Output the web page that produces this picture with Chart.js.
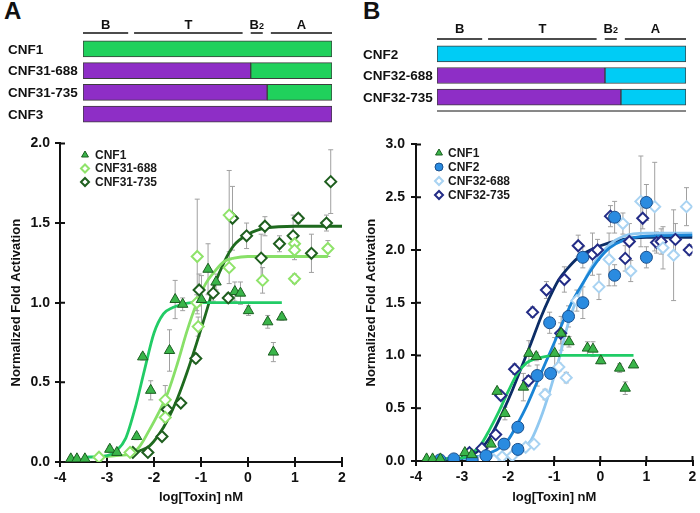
<!doctype html>
<html>
<head>
<title>CNF chimera activation</title>
<script src="https://cdn.jsdelivr.net/npm/chart.js@4.4.1/dist/chart.umd.min.js"></script>
<style>
body { margin: 0; background: #fff; }
#wrap { position: relative; width: 700px; height: 513px; overflow: hidden; }
#wrap canvas { position: absolute; }
.panel { position: absolute; font: bold 24px "Liberation Sans", Arial, sans-serif; line-height: 24px; color: #111; }
</style>
</head>
<body>
<div id="wrap">
	<div class="panel" style="left:4px;top:-1px">A</div>
	<div class="panel" style="left:363px;top:-1px">B</div>
	<canvas id="diagA" width="345" height="128" style="left:0;top:0"></canvas>
	<canvas id="diagB" width="350" height="128" style="left:350px;top:0"></canvas>
	<canvas id="plotA" width="350" height="383" style="left:0;top:130px"></canvas>
	<canvas id="plotB" width="350" height="383" style="left:350px;top:130px"></canvas>
</div>

<script>
// ---- domain diagrams (residue numbers) ----
var fullLength = 1014;
var domainNames = ['B', 'T', 'B', 'A'];
var domainSub = ['', '', '2', ''];
var domainStart = [0, 208, 683, 765];
var domainEnd = [184, 650, 732, 1014];

var rowsA = ['CNF1', 'CNF31-688', 'CNF31-735', 'CNF3'];
var cnf3PartA = [0, 683, 750, 1014];
var rowsB = ['CNF2', 'CNF32-688', 'CNF32-735'];
var cnf3PartB = [0, 684, 749];

// ---- panel A data (log[Toxin] nM vs normalized fold activation) ----
var cnf1X = [-3.77, -3.64, -3.47, -2.94, -2.79, -2.37, -2.24, -2.07, -1.67, -1.55, -1.39, -0.99, -0.85, -0.68, -0.28, -0.16, 0.01, 0.42, 0.54, 0.72];
var cnf1Y = [0.02, 0.02, 0.02, 0.08, 0.06, 0.16, 0.66, 0.45, 0.70, 1.02, 0.99, 1.02, 1.21, 1.13, 1.07, 1.06, 0.95, 0.88, 0.69, 0.91];
var cnf1Err = [0, 0, 0, 0.02, 0.01, 0.02, 0.02, 0.06, 0.13, 0.12, 0.04, 0.15, 0.16, 0.05, 0.06, 0.07, 0.03, 0.04, 0.06, 0.02];

var cnf31_688X = [-3.17, -2.51, -1.76, -1.76, -1.08, -1.06, -1.09, -0.40, -0.40, 0.31, 0.99, 0.99, 0.99, 1.70];
var cnf31_688Y = [0.03, 0.06, 0.39, 0.28, 1.29, 0.85, 1.00, 1.55, 1.22, 1.14, 1.37, 1.33, 1.15, 1.34];
var cnf31_688Err = [0, 0.02, 0.09, 0.03, 0.36, 0.06, 0.05, 0.28, 0.10, 0.08, 0.05, 0.06, 0.03, 0.05];

var cnf31_735X = [-2.45, -2.13, -1.83, -1.72, -1.43, -1.11, -1.04, -0.74, -0.42, -0.33, -0.03, 0.28, 0.36, 0.67, 0.96, 1.07, 1.35, 1.67, 1.76];
var cnf31_735Y = [0.06, 0.06, 0.16, 0.33, 0.37, 0.65, 1.08, 1.06, 1.03, 1.53, 1.42, 1.28, 1.48, 1.37, 1.42, 1.53, 1.31, 1.50, 1.76];
var cnf31_735Err = [0.01, 0.01, 0.02, 0.02, 0.02, 0.03, 0.10, 0.05, 0.03, 0.20, 0.08, 0.15, 0.06, 0.05, 0.13, 0.03, 0.12, 0.05, 0.20];

// fitted curves
var fitA1X = [-3.47, -3.0, -2.8, -2.6, -2.4, -2.2, -2.0, -1.8, -1.6, -1.4, -1.2, -0.8, 0.72];
var fitA1Y = [0.03, 0.04, 0.07, 0.15, 0.34, 0.58, 0.81, 0.93, 0.97, 0.99, 1.0, 1.0, 1.0];
var fitA688X = [-3.19, -2.8, -2.5, -2.3, -2.1, -1.9, -1.7, -1.5, -1.3, -1.1, -0.9, -0.7, -0.5, -0.3, 0, 1.7];
var fitA688Y = [0.03, 0.04, 0.05, 0.10, 0.20, 0.31, 0.44, 0.62, 0.82, 0.99, 1.12, 1.20, 1.26, 1.28, 1.29, 1.29];
var fitA735X = [-2.47, -2.3, -2.1, -1.9, -1.7, -1.5, -1.3, -1.1, -0.9, -0.7, -0.5, -0.3, 0, 0.4, 1.0, 2.0];
var fitA735Y = [0.05, 0.07, 0.10, 0.17, 0.27, 0.40, 0.56, 0.74, 0.93, 1.12, 1.26, 1.36, 1.43, 1.47, 1.48, 1.48];

// ---- panel B data ----
var cnf2X = [-3.48, -3.18, -2.78, -2.48, -2.09, -1.79, -1.79, -1.37, -1.08, -1.10, -0.69, -0.38, -0.38, 0.31, 0.31, 1.00, 1.00];
var cnf2Y = [0.01, 0.02, 0.01, 0.05, 0.16, 0.11, 0.32, 0.81, 0.83, 1.31, 1.37, 1.50, 1.93, 2.31, 1.76, 2.45, 1.93];
var cnf2Err = [0, 0, 0, 0.01, 0.02, 0.02, 0.03, 0.10, 0.05, 0.10, 0.10, 0.15, 0.10, 0.15, 0.10, 0.17, 0.10];

var cnf32_688X = [-2.59, -2.31, -2.13, -1.91, -1.62, -1.44, -1.20, -0.90, -0.74, -0.51, -0.03, 0.19, 0.49, 0.66, 0.88, 1.18, 1.36, 1.59, 1.87];
var cnf32_688Y = [0.01, 0.01, 0.04, 0.05, 0.13, 0.16, 0.63, 0.89, 0.79, 1.52, 1.65, 1.91, 2.25, 1.80, 2.46, 2.41, 2.02, 1.95, 2.41];
var cnf32_688Err = [0, 0, 0.01, 0.01, 0.02, 0.02, 0.05, 0.04, 0.05, 0.10, 0.12, 0.25, 0.10, 0.10, 0.43, 0.42, 0.20, 0.43, 0.18];

var cnf32_735X = [-2.84, -2.57, -2.27, -2.16, -1.86, -1.56, -1.47, -1.17, -0.86, -0.78, -0.48, -0.17, -0.06, 0.22, 0.54, 0.63, 0.92, 1.22, 1.32, 1.63, 1.93];
var cnf32_735Y = [0.08, 0.12, 0.25, 0.62, 0.87, 0.76, 1.41, 1.62, 1.21, 1.72, 2.04, 1.96, 2.00, 2.32, 1.92, 2.08, 2.30, 2.07, 2.08, 2.10, 2.00];
var cnf32_735Err = [0.01, 0.02, 0.03, 0.04, 0.05, 0.05, 0.05, 0.08, 0.10, 0.12, 0.10, 0.20, 0.10, 0.10, 0.12, 0.17, 0.10, 0.10, 0.12, 0.15, 0.05];

var fitB1X = [-3.76, -3.0, -2.8, -2.6, -2.4, -2.2, -2.0, -1.8, -1.6, -1.4, -1.2, -0.8, 0.72];
var fitB1Y = [0.02, 0.03, 0.07, 0.15, 0.30, 0.47, 0.66, 0.83, 0.93, 0.97, 0.99, 1.0, 1.0];
var fitB2X = [-3.5, -2.8, -2.5, -2.2, -2.0, -1.8, -1.6, -1.4, -1.2, -1.0, -0.8, -0.6, -0.4, -0.2, 0, 0.2, 0.5, 1.0, 2.0];
var fitB2Y = [0.02, 0.03, 0.06, 0.12, 0.20, 0.35, 0.52, 0.72, 0.92, 1.12, 1.33, 1.52, 1.67, 1.81, 1.93, 2.02, 2.09, 2.13, 2.14];
var fitB688X = [-2.7, -2.4, -2.0, -1.7, -1.5, -1.3, -1.1, -0.9, -0.7, -0.5, -0.3, -0.1, 0.2, 0.5, 1.0, 2.0];
var fitB688Y = [0.02, 0.02, 0.05, 0.11, 0.20, 0.40, 0.66, 0.96, 1.30, 1.55, 1.75, 1.90, 2.05, 2.13, 2.16, 2.16];
var fitB735X = [-2.91, -2.7, -2.5, -2.3, -2.1, -1.9, -1.7, -1.5, -1.3, -1.1, -0.9, -0.7, -0.5, -0.3, 0, 0.5, 1.0, 2.0];
var fitB735Y = [0.04, 0.08, 0.16, 0.30, 0.48, 0.68, 0.90, 1.12, 1.35, 1.55, 1.72, 1.83, 1.92, 1.98, 2.04, 2.10, 2.12, 2.12];

var FONT = '"Liberation Sans", Arial, sans-serif';
Chart.defaults.font.family = FONT;
Chart.defaults.animation = false;

function pts(xs, ys) {
	return xs.map(function (x, i) { return { x: x, y: ys[i] }; });
}

// row labels and domain headers over the bars
var diagramPlugin = {
	id: 'diagram',
	afterDatasetsDraw: function (chart, args, opts) {
		var ctx = chart.ctx, xs = chart.scales.x, ys = chart.scales.y;
		ctx.save();
		ctx.fillStyle = '#111';
		ctx.textBaseline = 'middle';
		ctx.textAlign = 'left';
		ctx.font = 'bold 13.5px ' + FONT;
		chart.data.labels.forEach(function (lab, i) {
			ctx.fillText(lab, opts.labelX, ys.getPixelForValue(i) + 1);
		});
		ctx.strokeStyle = '#111';
		ctx.lineWidth = 1.5;
		domainNames.forEach(function (name, i) {
			var x0 = xs.getPixelForValue(domainStart[i]), x1 = xs.getPixelForValue(domainEnd[i]);
			ctx.beginPath();
			ctx.moveTo(x0, opts.lineY);
			ctx.lineTo(x1, opts.lineY);
			ctx.stroke();
			ctx.font = 'bold 13px ' + FONT;
			var w = ctx.measureText(name).width;
			ctx.font = 'bold 9px ' + FONT;
			var ws = domainSub[i] ? ctx.measureText(domainSub[i]).width : 0;
			var start = (x0 + x1) / 2 - (w + ws) / 2;
			ctx.font = 'bold 13px ' + FONT;
			ctx.fillText(name, start, opts.textY);
			if (domainSub[i]) {
				ctx.font = 'bold 9px ' + FONT;
				ctx.fillText(domainSub[i], start + w, opts.textY + 2);
			}
		});
		if (opts.underlineY) {
			ctx.lineWidth = 1;
			ctx.beginPath();
			ctx.moveTo(xs.left, opts.underlineY);
			ctx.lineTo(xs.right, opts.underlineY);
			ctx.stroke();
		}
		ctx.restore();
	}
};

function makeDiagram(id, rows, split, otherColor, opts) {
	new Chart(document.getElementById(id), {
		type: 'bar',
		data: {
			labels: rows,
			datasets: [{
				data: split,
				backgroundColor: '#8e2ec6',
				borderColor: '#3d3d3d', borderWidth: 1, borderSkipped: false, barThickness: 16
			}, {
				data: split.map(function (v) { return fullLength - v; }),
				backgroundColor: otherColor,
				borderColor: '#3d3d3d', borderWidth: 1, borderSkipped: false, barThickness: 16
			}]
		},
		options: {
			indexAxis: 'y',
			responsive: false,
			events: [],
			layout: { padding: opts.padding },
			scales: {
				x: { stacked: true, min: 0, max: fullLength, display: false },
				y: { stacked: true, display: false }
			},
			plugins: { legend: { display: false }, tooltip: { enabled: false }, diagram: opts }
		},
		plugins: [diagramPlugin]
	});
}

// grey error bars behind the markers
var errorBars = {
	id: 'errorBars',
	beforeDatasetsDraw: function (chart) {
		var ctx = chart.ctx, xs = chart.scales.x, ys = chart.scales.y;
		ctx.save();
		ctx.strokeStyle = '#a0a0a0';
		ctx.lineWidth = 1;
		chart.data.datasets.forEach(function (ds) {
			if (!ds.err) return;
			ds.data.forEach(function (p, i) {
				var e = ds.err[i];
				if (!e) return;
				var px = xs.getPixelForValue(p.x);
				var top = ys.getPixelForValue(p.y + e), bot = ys.getPixelForValue(p.y - e);
				ctx.beginPath();
				ctx.moveTo(px, top); ctx.lineTo(px, bot);
				ctx.moveTo(px - 2.5, top); ctx.lineTo(px + 2.5, top);
				ctx.moveTo(px - 2.5, bot); ctx.lineTo(px + 2.5, bot);
				ctx.stroke();
			});
		});
		ctx.restore();
	}
};

// tick marks cross the axis lines
var innerTicks = {
	id: 'innerTicks',
	beforeDatasetsDraw: function (chart) {
		var ctx = chart.ctx, area = chart.chartArea, xs = chart.scales.x, ys = chart.scales.y;
		ctx.save();
		ctx.strokeStyle = '#111';
		ctx.lineWidth = 2;
		ctx.beginPath();
		xs.ticks.forEach(function (t) {
			var px = xs.getPixelForValue(t.value);
			ctx.moveTo(px, area.bottom); ctx.lineTo(px, area.bottom - 5);
		});
		ys.ticks.forEach(function (t) {
			var py = ys.getPixelForValue(t.value);
			ctx.moveTo(area.left, py); ctx.lineTo(area.left + 5, py);
		});
		ctx.stroke();
		ctx.restore();
	}
};

// small legend in the top left of the plot
var pointLegend = {
	id: 'pointLegend',
	afterDatasetsDraw: function (chart, args, opts) {
		var ctx = chart.ctx, row = 0;
		ctx.save();
		ctx.font = 'bold 12px ' + FONT;
		ctx.textBaseline = 'middle';
		ctx.textAlign = 'left';
		chart.data.datasets.forEach(function (ds) {
			if (!ds.inLegend) return;
			var y = opts.y + row * opts.step;
			ctx.fillStyle = ds.backgroundColor;
			ctx.strokeStyle = ds.borderColor;
			ctx.lineWidth = ds.borderWidth;
			Chart.helpers.drawPoint(ctx, { pointStyle: ds.pointStyle, radius: opts.radius, rotation: 0, borderWidth: ds.borderWidth }, opts.x, y);
			ctx.fillStyle = '#1a1a1a';
			ctx.fillText(ds.label, opts.x + opts.gap, y + 0.5);
			row++;
		});
		ctx.restore();
	}
};

function markers(label, xs, ys, err, style, bg, border, bw, r) {
	return {
		label: label, data: pts(xs, ys), err: err, inLegend: true,
		pointStyle: style, pointRadius: r, backgroundColor: bg, borderColor: border,
		borderWidth: bw, pointBorderWidth: bw, showLine: false
	};
}

function curve(xs, ys, color) {
	return {
		data: pts(xs, ys), showLine: true, pointRadius: 0, borderColor: color,
		borderWidth: 2.8, cubicInterpolationMode: 'monotone', fill: false
	};
}

function makePlot(id, datasets, yMax, sizes) {
	var tickFont = { size: 14, weight: 'bold', family: FONT };
	var titleFont = { size: 13, weight: 'bold', family: FONT };
	new Chart(document.getElementById(id), {
		type: 'scatter',
		data: { datasets: datasets },
		options: {
			responsive: false,
			events: [],
			layout: { padding: sizes.padding },
			scales: {
				x: {
					type: 'linear', min: -4, max: 2,
					ticks: { stepSize: 1, font: tickFont, color: '#111', padding: 3 },
					grid: { drawOnChartArea: false, color: '#111', lineWidth: 2, tickLength: 5 },
					border: { color: '#111', width: 2 },
					title: { display: true, text: 'log[Toxin] nM', font: titleFont, color: '#111', padding: { top: 4, bottom: 8 } },
					afterFit: function (s) { s.height = sizes.xHeight; }
				},
				y: {
					min: 0, max: yMax,
					ticks: { stepSize: 0.5, font: tickFont, color: '#111', padding: sizes.tickPad,
						callback: function (v) { return v.toFixed(1); } },
					grid: { drawOnChartArea: false, color: '#111', lineWidth: 2, tickLength: 5 },
					border: { color: '#111', width: 2 },
					title: { display: true, text: 'Normalized Fold Activation', font: titleFont, color: '#111', padding: { top: sizes.titlePad, bottom: 0 } },
					afterFit: function (s) { s.width = sizes.yWidth; }
				}
			},
			plugins: { legend: { display: false }, tooltip: { enabled: false }, pointLegend: sizes.legend }
		},
		plugins: [innerTicks, errorBars, pointLegend]
	});
}

makeDiagram('diagA', rowsA, cnf3PartA, '#20d15c', {
	padding: { left: 83, right: 13, top: 38, bottom: 3 }, labelX: 8, textY: 25, lineY: 33
});
makeDiagram('diagB', rowsB, cnf3PartB, '#00ccf5', {
	padding: { left: 87, right: 14, top: 43, bottom: 20 }, labelX: 13, textY: 29, lineY: 39, underlineY: 111
});

makePlot('plotA', [
	markers('CNF1', cnf1X, cnf1Y, cnf1Err, 'triangle', '#3ab54a', '#1b5e20', 1, 6),
	markers('CNF31-688', cnf31_688X, cnf31_688Y, cnf31_688Err, 'rectRot', '#ffffff', '#8fe36a', 2, 5.5),
	markers('CNF31-735', cnf31_735X, cnf31_735Y, cnf31_735Err, 'rectRot', '#ffffff', '#1f5f1f', 2, 5.5),
	curve(fitA1X, fitA1Y, '#22cc66'),
	curve(fitA688X, fitA688Y, '#88e068'),
	curve(fitA735X, fitA735Y, '#1e6a1e')
], 2, {
	padding: { left: 0, top: 12, right: 8, bottom: 0 }, xHeight: 51, yWidth: 60, tickPad: 5, titlePad: 9,
	legend: { x: 85, y: 25, step: 13.5, radius: 4, gap: 10 }
});

makePlot('plotB', [
	markers('CNF1', cnf1X, cnf1Y, cnf1Err, 'triangle', '#3ab54a', '#1b5e20', 1, 6),
	markers('CNF2', cnf2X, cnf2Y, cnf2Err, 'circle', '#2a8be0', '#1a4f8c', 1, 6),
	markers('CNF32-688', cnf32_688X, cnf32_688Y, cnf32_688Err, 'rectRot', '#ffffff', '#a9d3f2', 2, 5.5),
	markers('CNF32-735', cnf32_735X, cnf32_735Y, cnf32_735Err, 'rectRot', '#ffffff', '#232c86', 2, 5.5),
	curve(fitB1X, fitB1Y, '#1fcc66'),
	curve(fitB2X, fitB2Y, '#1a85d6'),
	curve(fitB688X, fitB688Y, '#90c8f0'),
	curve(fitB735X, fitB735Y, '#0c2d66')
], 3, {
	padding: { left: 0, top: 8, right: 3, bottom: 0 }, xHeight: 52, yWidth: 66, tickPad: 6, titlePad: 14,
	legend: { x: 89, y: 23, step: 14, radius: 4, gap: 9 }
});
</script>
</body>
</html>
